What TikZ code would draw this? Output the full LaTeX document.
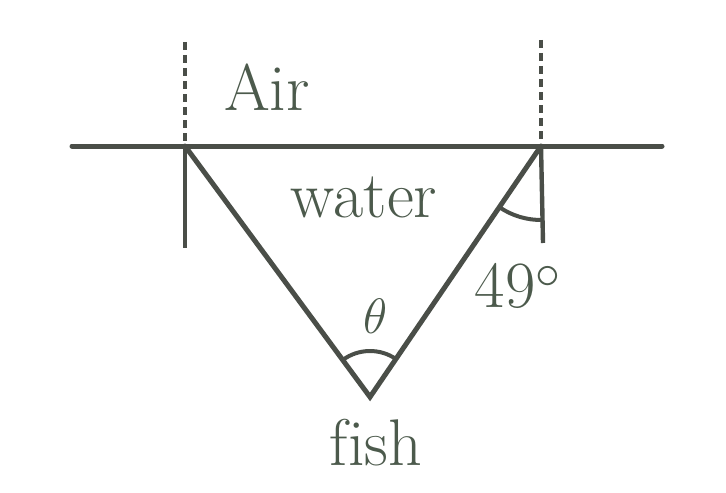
\documentclass[tikz,border=0pt]{standalone}
\usetikzlibrary{positioning,angles}
\definecolor{ink}{HTML}{4A4E48}
\definecolor{textink}{HTML}{4C5A4C}

\begin{document}
\begin{tikzpicture}[x=0.5pt, y=-0.5pt,
    ray/.style={draw=ink, line width=2.5pt, line cap=round},
    normal/.style={draw=ink, line width=2.2pt},
    guide/.style={draw=ink, line width=2pt, dash pattern=on 4pt off 2.5pt},
    ang/.style={draw=ink, line width=2pt},
    lbl/.style={font=\fontsize{33}{38}\selectfont, color=textink, anchor=base}]
    \useasboundingbox (0,0) rectangle (726,492);
    \coordinate (sl) at (72,146);
    \coordinate (sr) at (662,146);
    \coordinate (L) at (185,146);
    \coordinate (R) at (541,146);
    \coordinate (F) at (370,397);
    \coordinate (Lup) at (185,42);
    \coordinate (Rup) at (541,40);
    \coordinate (Ldn) at (185,248);
    \coordinate (Rdn) at (543,243);
    \draw[ray] (sl) -- (sr);
    \draw[guide] (Lup) -- (L);
    \draw[guide] (Rup) -- (R);
    \draw[normal] (L) -- (Ldn);
    \draw[normal] (R) -- (Rdn);
    \draw[ray] (L) -- (F) -- (R);
    \pic[ang, angle radius=37pt] {angle = F--R--Rdn};
    \pic[ang, angle radius=23pt] {angle = R--F--L};
    \node[lbl] (air) at (267,110) {Air};
    \node[lbl] (water) at (364,217) {water};
    \node[lbl] (theta) at (376,333) {$\theta$};
    \node[lbl] (deg) at (518,307) {49$^\circ$};
    \node[lbl] (fish) at (376,465) {f\kern0ptish};
  \end{tikzpicture}
\end{document}
